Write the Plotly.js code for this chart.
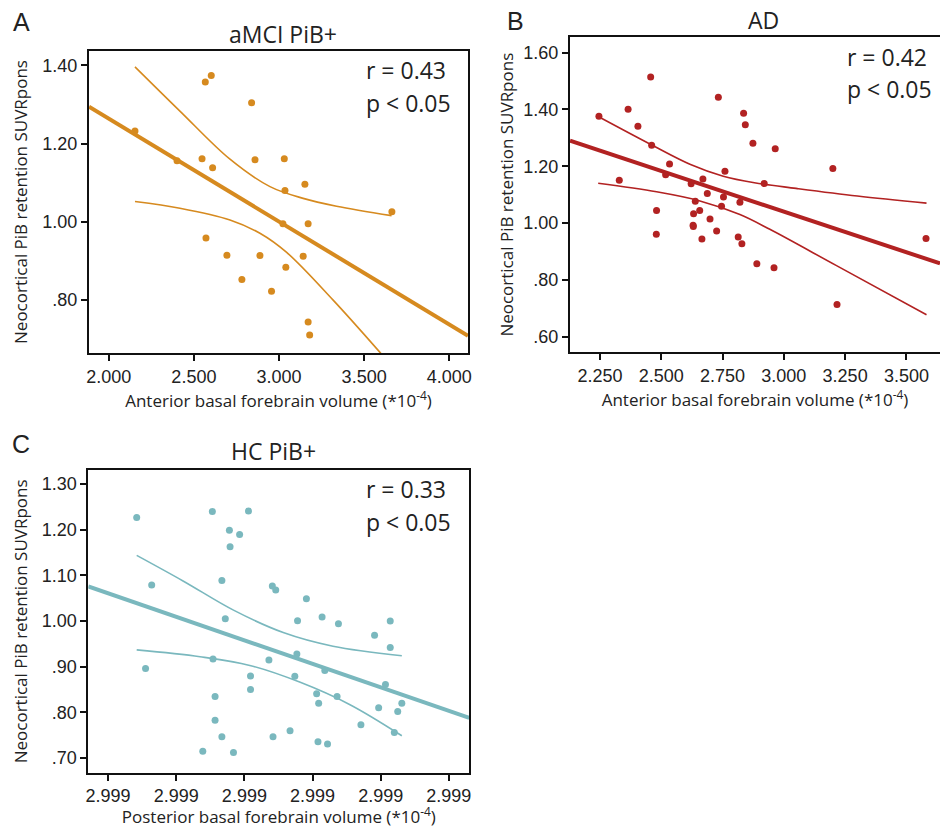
<!DOCTYPE html>
<html><head><meta charset="utf-8">
<script src="https://cdn.plot.ly/plotly-3.0.1.min.js"></script>
<style>html,body{margin:0;padding:0;background:#fff}#chart{width:940px;height:828px}</style>
</head><body><div id="chart"></div>
<script>
// ---------- Panel A: aMCI PiB+ ----------
const aX = [2.154, 2.401, 2.567, 2.602, 2.548, 2.610, 2.839, 2.859, 3.031, 3.035, 3.152, 3.663,
            3.023, 3.171, 2.571, 2.694, 2.888, 3.142, 3.040, 2.782, 2.956, 3.171, 3.180];
const aY = [1.232, 1.156, 1.357, 1.374, 1.161, 1.138, 1.304, 1.159, 1.161, 1.080, 1.096, 1.026,
            0.995, 0.995, 0.959, 0.915, 0.914, 0.912, 0.884, 0.853, 0.823, 0.744, 0.711];
const aFitX = [1.884, 4.110];
const aFitY = [1.294, 0.709];
const aUpX = [2.154, 2.418, 2.712, 2.947, 3.142, 3.338, 3.661];
const aUpY = [1.396, 1.283, 1.160, 1.090, 1.060, 1.040, 1.016];
const aLoX = [2.154, 2.418, 2.712, 2.888, 3.045, 3.318, 3.598];
const aLoY = [1.052, 1.035, 1.005, 0.971, 0.922, 0.800, 0.664];
const aXTicks = [2.0, 2.5, 3.0, 3.5, 4.0];
const aXTickText = ['2.000', '2.500', '3.000', '3.500', '4.000'];
const aYTicks = [0.8, 1.0, 1.2, 1.4];
const aYTickText = ['.80', '1.00', '1.20', '1.40'];

// ---------- Panel B: AD ----------
const bX = [2.246, 2.365, 2.405, 2.457, 2.461, 2.329, 2.534, 2.518, 2.481, 2.480, 2.622, 2.670,
            2.639, 2.632, 2.657, 2.630, 2.631, 2.688, 2.699, 2.666, 2.726, 2.733, 2.760, 2.754,
            2.746, 2.821, 2.814, 2.829, 2.836, 2.843, 2.874, 2.965, 2.920, 2.890, 2.960, 3.200,
            3.217, 3.580];
const bY = [1.376, 1.401, 1.341, 1.514, 1.274, 1.151, 1.208, 1.170, 1.044, 0.961, 1.138, 1.155,
            1.077, 1.033, 1.044, 0.992, 0.988, 1.104, 1.014, 0.944, 0.972, 1.443, 1.182, 1.092,
            1.059, 1.073, 0.951, 0.927, 1.387, 1.346, 1.281, 1.262, 1.139, 0.857, 0.843, 1.192,
            0.713, 0.946];
const bFitX = [2.128, 3.637];
const bFitY = [1.290, 0.858];
const bUpX = [2.243, 2.461, 2.617, 2.753, 2.880, 3.050, 3.300, 3.582];
const bUpY = [1.375, 1.275, 1.207, 1.165, 1.142, 1.122, 1.095, 1.070];
const bLoX = [2.243, 2.481, 2.658, 2.821, 2.943, 3.215, 3.582];
const bLoY = [1.140, 1.110, 1.078, 1.030, 0.978, 0.850, 0.677];
const bXTicks = [2.25, 2.5, 2.75, 3.0, 3.25, 3.5];
const bXTickText = ['2.250', '2.500', '2.750', '3.000', '3.250', '3.500'];
const bYTicks = [0.6, 0.8, 1.0, 1.2, 1.4, 1.6];
const bYTickText = ['.60', '.80', '1.00', '1.20', '1.40', '1.60'];

// ---------- Panel C: HC PiB+ ----------
const cX = [2.999042, 2.999064, 2.999055, 2.999153, 2.999206, 2.999178, 2.999193, 2.999179,
            2.999167, 2.999172, 2.999154, 2.999157, 2.999157, 2.999167, 2.999139, 2.999184,
            2.999209, 2.999209, 2.999241, 2.999246, 2.999236, 2.999242, 2.999267, 2.999291,
            2.999278, 2.999277, 2.999274, 2.999314, 2.999338, 2.999318, 2.999306, 2.999309,
            2.999336, 2.999308, 2.999322, 2.999371, 2.999391, 2.999414, 2.999414, 2.999407,
            2.999397, 2.999425, 2.999431, 2.999420];
const cY = [1.227, 1.079, 0.896, 1.240, 1.241, 1.199, 1.190, 1.163, 1.089, 1.005, 0.917, 0.835,
            0.783, 0.747, 0.715, 0.712, 0.880, 0.850, 1.077, 1.068, 0.915, 0.747, 0.760, 1.049,
            1.001, 0.928, 0.879, 1.009, 0.994, 0.892, 0.841, 0.820, 0.835, 0.736, 0.731, 0.773,
            0.969, 1.000, 0.942, 0.861, 0.810, 0.802, 0.820, 0.756];
const cFitX = [2.998971, 2.999530];
const cFitY = [1.076, 0.788];
const cUpX = [2.999042, 2.999110, 2.999184, 2.999257, 2.999330, 2.999431];
const cUpY = [1.144, 1.088, 1.024, 0.975, 0.945, 0.924];
const cLoX = [2.999042, 2.999135, 2.999208, 2.999282, 2.999355, 2.999431];
const cLoY = [0.937, 0.922, 0.903, 0.866, 0.817, 0.749];
const cXTicks = [2.9990, 2.9991, 2.9992, 2.9993, 2.9994, 2.9995];
const cXTickText = ['2.999', '2.999', '2.999', '2.999', '2.999', '2.999'];
const cYTicks = [0.7, 0.8, 0.9, 1.0, 1.1, 1.2, 1.3];
const cYTickText = ['.70', '.80', '.90', '1.00', '1.10', '1.20', '1.30'];

const colA = '#D68A1F', colB = '#B22222', colC = '#7AB8BE';

function panelTraces(xs, ys, fx, fy, ux, uy, lx, ly, col, xa, ya) {
  return [
    {x: fx, y: fy, type: 'scatter', mode: 'lines', line: {color: col, width: 4}, xaxis: xa, yaxis: ya, hoverinfo: 'skip'},
    {x: ux, y: uy, type: 'scatter', mode: 'lines', line: {color: col, width: 1.6, shape: 'spline', smoothing: 1}, xaxis: xa, yaxis: ya, hoverinfo: 'skip'},
    {x: lx, y: ly, type: 'scatter', mode: 'lines', line: {color: col, width: 1.6, shape: 'spline', smoothing: 1}, xaxis: xa, yaxis: ya, hoverinfo: 'skip'},
    {x: xs, y: ys, type: 'scatter', mode: 'markers', marker: {color: col, size: 7}, xaxis: xa, yaxis: ya, cliponaxis: false}
  ];
}

const data = [].concat(
  panelTraces(aX, aY, aFitX, aFitY, aUpX, aUpY, aLoX, aLoY, colA, 'x', 'y'),
  panelTraces(bX, bY, bFitX, bFitY, bUpX, bUpY, bLoX, bLoY, colB, 'x2', 'y2'),
  panelTraces(cX, cY, cFitX, cFitY, cUpX, cUpY, cLoX, cLoY, colC, 'x3', 'y3')
);

const W = 940, H = 828;
const tickFont = {family: 'Liberation Sans, Arial, sans-serif', size: 18, color: '#222'};
const titleFont = {family: 'Open Sans, sans-serif', size: 17, color: '#222'};
const yTitle = 'Neocortical PiB retention SUVRpons';

function xAxis(dom, rng, tv, tt, title, anchor, standoff) {
  return {domain: dom, range: rng, tickvals: tv, ticktext: tt, ticks: 'outside', ticklen: 6, tickwidth: 2,
    tickcolor: '#111', showline: true, linewidth: 2, linecolor: '#111', mirror: true, showgrid: false,
    zeroline: false, tickfont: tickFont, anchor: anchor, automargin: false,
    title: {text: title, font: titleFont, standoff: standoff}};
}
function yAxis(dom, rng, tv, tt, anchor, standoff, mirror) {
  return {domain: dom, range: rng, tickvals: tv, ticktext: tt, ticks: 'outside', ticklen: 6, tickwidth: 2,
    tickcolor: '#111', showline: true, linewidth: 2, linecolor: '#111', mirror: mirror, showgrid: false,
    zeroline: false, tickfont: tickFont, anchor: anchor, automargin: false,
    title: {text: yTitle, font: titleFont, standoff: standoff}};
}
const px = v => v / W, py = v => 1 - v / H;

function ann(text, x, y, size, xanchor, family) {
  return {text: text, x: px(x), y: py(y), xref: 'paper', yref: 'paper', showarrow: false,
    xanchor: xanchor, yanchor: 'middle', font: {family: family, size: size, color: '#222'}};
}
const letterFam = 'Liberation Sans, Arial, sans-serif';
const textFam = 'Open Sans, sans-serif';

const layout = {
  width: W, height: H, margin: {l: 0, r: 0, t: 0, b: 0},
  paper_bgcolor: '#fff', plot_bgcolor: '#fff', showlegend: false,
  xaxis: xAxis([px(89), px(468)], [1.884, 4.110], aXTicks, aXTickText, 'Anterior basal forebrain volume (*10<sup>-4</sup>)', 'y', 0),
  yaxis: yAxis([py(353), py(51)], [0.665, 1.4365], aYTicks, aYTickText, 'x', 10, true),
  xaxis2: xAxis([px(570), 1], [2.128, 3.637], bXTicks, bXTickText, 'Anterior basal forebrain volume (*10<sup>-4</sup>)', 'y2', 0),
  yaxis2: yAxis([py(352.3), py(37)], [0.545, 1.655], bYTicks, bYTickText, 'x2', 5, false),
  xaxis3: xAxis([px(88.3), px(469.3)], [2.998971, 2.999530], cXTicks, cXTickText, 'Posterior basal forebrain volume (*10<sup>-4</sup>)', 'y3', 0),
  yaxis3: yAxis([py(772.7), py(470)], [0.668, 1.331], cYTicks, cYTickText, 'x3', 10, true),
  annotations: [
    ann('A', 11, 22, 25, 'left', letterFam),
    ann('B', 505, 21, 25, 'left', letterFam),
    ann('C', 10, 444, 25, 'left', letterFam),
    ann('aMCI PiB+', 283, 34, 23, 'center', textFam),
    ann('AD', 763, 20, 23, 'center', textFam),
    ann('HC PiB+', 273, 451, 23, 'center', textFam),
    ann('r = 0.43', 364, 70, 23, 'left', textFam),
    ann('p < 0.05', 364, 103, 23, 'left', textFam),
    ann('r = 0.42', 845, 57, 23, 'left', textFam),
    ann('p < 0.05', 845, 89, 23, 'left', textFam),
    ann('r = 0.33', 364, 489, 23, 'left', textFam),
    ann('p < 0.05', 364, 522, 23, 'left', textFam)
  ]
};

Plotly.newPlot('chart', data, layout, {displayModeBar: false, staticPlot: true});
</script></body></html>
